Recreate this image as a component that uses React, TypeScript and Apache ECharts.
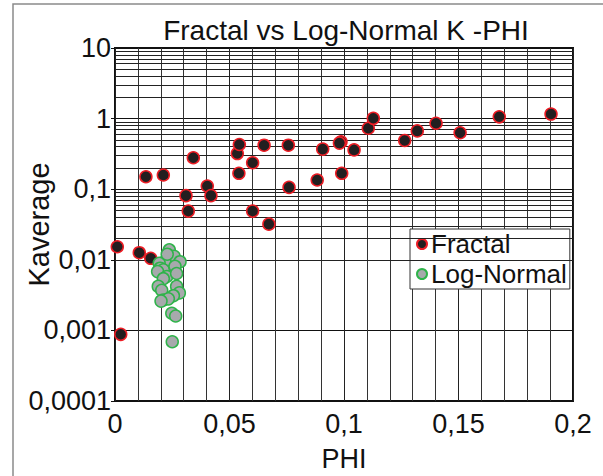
import React, { useEffect, useRef } from "react";
import * as echarts from "echarts";

const titleText = "Fractal vs Log-Normal K -PHI";
const xName = "PHI";
const yName = "Kaverage";

const fractalPhi = [0.001, 0.0025, 0.0106, 0.0156, 0.0135, 0.0211, 0.0342, 0.031, 0.032, 0.0403, 0.0419, 0.0534, 0.0543, 0.0541, 0.0601, 0.0601, 0.0651, 0.0672, 0.0757, 0.076, 0.0883, 0.0907, 0.099, 0.0987, 0.098, 0.1044, 0.1106, 0.1128, 0.1265, 0.132, 0.1402, 0.1507, 0.1678, 0.1904];
const fractalK = [0.0153, 0.00088, 0.0126, 0.0105, 0.15, 0.159, 0.279, 0.081, 0.049, 0.111, 0.081, 0.32, 0.43, 0.168, 0.237, 0.049, 0.42, 0.032, 0.42, 0.106, 0.135, 0.37, 0.168, 0.47, 0.45, 0.36, 0.73, 1.01, 0.49, 0.67, 0.86, 0.63, 1.06, 1.16];

const lognormPhi = [0.0237, 0.0258, 0.0284, 0.0218, 0.0193, 0.0197, 0.0211, 0.0262, 0.0186, 0.0226, 0.0211, 0.0269, 0.0189, 0.0204, 0.0269, 0.0281, 0.0255, 0.0211, 0.0233, 0.0201, 0.0248, 0.0265, 0.025, 0.0228];
const lognormK = [0.0138, 0.0112, 0.0094, 0.0094, 0.0089, 0.0076, 0.0072, 0.0081, 0.0068, 0.0058, 0.0054, 0.0064, 0.0042, 0.0037, 0.0042, 0.0034, 0.0031, 0.0027, 0.0028, 0.0026, 0.00175, 0.0016, 0.00069, 0.012];

const yMin = 0.0001;
const yMax = 10;
const xMin = 0;
const xMax = 0.2;

// log-spaced minor grid lines (2..9 x 10^k)
const logMinorGrid: number[] = [];
for (let k = -4; k <= 0; k++) {
  for (let m = 2; m <= 9; m++) logMinorGrid.push(parseFloat((m * Math.pow(10, k)).toPrecision(6)));
}

const FONT = "Liberation Sans, Arial, sans-serif";

const fmt = (v: number) => String(parseFloat(Number(v).toPrecision(6))).replace(".", ",");

export default function App() {
  const ref = useRef<HTMLDivElement>(null);
  useEffect(() => {
    if (!ref.current) return;
    const chart = echarts.init(ref.current, undefined, { renderer: "svg" });
    chart.setOption({
      animation: false,
      backgroundColor: "#ffffff",
      textStyle: { fontFamily: FONT },
      title: {
        text: titleText,
        left: 341,
        top: 11,
        textAlign: "center",
        textStyle: { fontFamily: FONT, fontSize: 28, fontWeight: "normal", color: "#111" },
      },
      graphic: [
        {
          type: "rect",
          shape: { x: 13, y: 4, width: 700, height: 600 },
          style: { fill: "none", stroke: "#8a8a8a", lineWidth: 1.5 },
          silent: true,
        },
      ],
      legend: {
        left: 410,
        top: 229,
        orient: "vertical",
        backgroundColor: "#ffffff",
        borderColor: "#333",
        borderWidth: 1,
        borderRadius: 0,
        padding: [2, 3, 2, 6],
        itemGap: 4,
        itemWidth: 10,
        itemHeight: 10,
        textStyle: { fontFamily: FONT, fontSize: 26, color: "#111", padding: [0, 0, 0, -1] },
        data: ["Fractal", "Log-Normal"],
      },
      grid: {
        left: 115,
        top: 48,
        width: 458,
        height: 353,
        show: true,
        containLabel: false,
        outerBoundsMode: "none",
        borderColor: "#111",
        borderWidth: 2,
        backgroundColor: "transparent",
      },
      xAxis: {
        type: "value",
        min: xMin,
        max: xMax,
        interval: 0.05,
        name: xName,
        nameLocation: "middle",
        nameGap: 44,
        nameMoveOverlap: false,
        nameTextStyle: { fontFamily: FONT, fontSize: 27, color: "#111" },
        axisLine: { show: false },
        axisTick: { show: false },
        axisLabel: { fontFamily: FONT, fontSize: 27, color: "#111", margin: 9, formatter: (v: number) => fmt(v) },
        splitLine: { show: true, lineStyle: { color: "#222", width: 1 } },
        minorTick: { show: false, splitNumber: 5 },
        minorSplitLine: { show: true, lineStyle: { color: "#333", width: 1 } },
      },
      yAxis: {
        type: "log",
        logBase: 10,
        min: yMin,
        max: yMax,
        name: yName,
        nameLocation: "middle",
        nameGap: 62,
        nameMoveOverlap: false,
        nameTextStyle: { fontFamily: FONT, fontSize: 29, color: "#111" },
        axisLine: { show: false },
        axisTick: { show: true, length: 4, lineStyle: { color: "#111" } },
        axisLabel: { fontFamily: FONT, fontSize: 27, color: "#111", margin: 4, formatter: (v: number) => fmt(v) },
        splitLine: { show: true, lineStyle: { color: "#111", width: 1 } },
      },
      series: [
        {
          name: "grid",
          type: "line",
          data: [],
          z: 1,
          silent: true,
          markLine: {
            silent: true,
            symbol: ["none", "none"],
            label: { show: false },
            lineStyle: { type: "solid", color: "#222", width: 1 },
            data: logMinorGrid.map((v) => ({ yAxis: v })),
          },
        },
        {
          name: "Fractal",
          type: "scatter",
          z: 5,
          symbol: "circle",
          symbolSize: 12,
          itemStyle: { color: "#231f20", borderColor: "#ed1c24", borderWidth: 1.5, opacity: 1 },
          data: fractalPhi.map((x, i) => [x, fractalK[i]]),
        },
        {
          name: "Log-Normal",
          type: "scatter",
          z: 5,
          symbol: "circle",
          symbolSize: 12,
          itemStyle: { color: "#a7a9ac", borderColor: "#2fb34a", borderWidth: 1.5, opacity: 1 },
          data: lognormPhi.map((x, i) => [x, lognormK[i]]),
        },
      ],
    });
    return () => chart.dispose();
  }, []);
  return (
    <div
      ref={ref}
      style={{ position: "fixed", left: 0, top: 0, width: 603, height: 476 }}
    />
  );
}
